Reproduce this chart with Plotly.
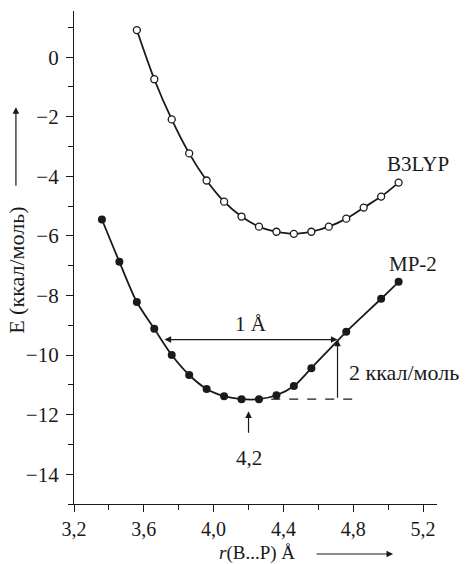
import plotly.graph_objects as go

# Interaction energy vs B...P distance
r_mp2 = [3.36, 3.46, 3.56, 3.66, 3.76, 3.86, 3.96, 4.06, 4.16, 4.26, 4.36, 4.46, 4.56, 4.76, 4.96, 5.06]
e_mp2 = [-5.45, -6.87, -8.22, -9.12, -10.0, -10.67, -11.14, -11.38, -11.48, -11.48, -11.35, -11.04, -10.44, -9.22, -8.11, -7.54]

r_b3lyp = [3.56, 3.66, 3.76, 3.86, 3.96, 4.06, 4.16, 4.26, 4.36, 4.46, 4.56, 4.66, 4.76, 4.86, 4.96, 5.06]
e_b3lyp = [0.91, -0.74, -2.09, -3.23, -4.14, -4.85, -5.35, -5.69, -5.86, -5.93, -5.86, -5.69, -5.42, -5.05, -4.68, -4.21]

x_ticks = [3.2, 3.6, 4.0, 4.4, 4.8, 5.2]
x_ticktext = ["3,2", "3,6", "4,0", "4,4", "4,8", "5,2"]
y_ticks = [0, -2, -4, -6, -8, -10, -12, -14]

# Well width / depth markers for the MP-2 curve
width_left, width_len = 3.71, 1.0
depth_min, depth_len = -11.48, 2.0
r_min = 4.2

FONT = "Liberation Serif, Times New Roman, serif"
INK = "#1a1a1a"

fig = go.Figure()

fig.add_trace(go.Scatter(
    x=r_b3lyp, y=e_b3lyp, mode="lines+markers",
    line=dict(color=INK, width=1.8, shape="spline", smoothing=0.8),
    marker=dict(size=7, color="white", line=dict(color=INK, width=1.3)),
    showlegend=False,
))
fig.add_trace(go.Scatter(
    x=r_mp2, y=e_mp2, mode="lines+markers",
    line=dict(color=INK, width=1.8, shape="spline", smoothing=0.8),
    marker=dict(size=8, color=INK),
    showlegend=False,
))

# dashed baseline at the well bottom
fig.add_shape(type="line", xref="x", yref="y",
              x0=4.33, x1=4.80, y0=depth_min, y1=depth_min,
              line=dict(color=INK, width=1.2, dash="dash"))

ARROW = dict(arrowhead=2, arrowsize=1.1, arrowwidth=1.2, arrowcolor=INK, standoff=0)


def label(text, size=21, **kw):
    d = dict(text=text, showarrow=False, xanchor="center", yanchor="middle",
             font=dict(family=FONT, size=size, color=INK))
    d.update(kw)
    return d


annotations = []

# 1 Å double arrow
annotations.append(dict(x=width_left + width_len, y=depth_min + depth_len,
                        ax=width_left, ay=depth_min + depth_len,
                        xref="x", yref="y", axref="x", ayref="y",
                        text="", showarrow=True, arrowside="end+start",
                        startstandoff=0, **ARROW))
# 2 kcal/mol vertical arrow
annotations.append(dict(x=width_left + width_len, y=depth_min + depth_len,
                        ax=width_left + width_len, ay=depth_min,
                        xref="x", yref="y", axref="x", ayref="y",
                        text="", showarrow=True, **ARROW))
# minimum position arrow
annotations.append(dict(x=r_min, y=-11.89, ax=r_min, ay=-12.66,
                        xref="x", yref="y", axref="x", ayref="y",
                        text="", showarrow=True, **ARROW))

annotations += [
    label("B3LYP", x=5.171, y=-3.57, xref="x", yref="y"),
    label("МР-2", x=5.143, y=-6.94, xref="x", yref="y"),
    label("1 Å", x=4.214, y=-8.96, xref="x", yref="y"),
    label("2 ккал/моль", size=22, x=4.765, y=-10.57, xref="x", yref="y", xanchor="left"),
    label("4,2", x=r_min, y=-13.47, xref="x", yref="y"),
]

# axis titles with direction arrows
annotations.append(label("E (ккал/моль)", size=22, x=-0.157, y=0.473,
                         xref="paper", yref="paper", textangle=-90))
annotations.append(dict(x=-0.160, y=0.805, xref="paper", yref="paper",
                        ax=0, ay=80, text="", showarrow=True, **ARROW))
annotations.append(label("<i>r</i>(B...P) Å", size=19, x=0.504, y=-0.0994,
                         xref="paper", yref="paper"))
annotations.append(dict(x=0.879, y=-0.1014, xref="paper", yref="paper",
                        ax=-78, ay=0, text="", showarrow=True, **ARROW))

fig.update_layout(
    width=465, height=564,
    margin=dict(l=74, r=28, t=11, b=60),
    paper_bgcolor="white", plot_bgcolor="white",
    font=dict(family=FONT, size=20, color=INK),
    annotations=annotations,
)

fig.update_xaxes(
    range=[3.2, 5.28], showgrid=False, zeroline=False,
    showline=True, linecolor=INK, linewidth=1.3,
    tickmode="array", tickvals=x_ticks, ticktext=x_ticktext,
    ticks="outside", ticklen=7, tickwidth=1.2, tickcolor=INK,
    tickfont=dict(family=FONT, size=20, color=INK),
    ticklabelstandoff=0,
    minor=dict(dtick=0.2, tick0=3.2, ticks="outside", ticklen=5, tickwidth=1.1, tickcolor=INK, showgrid=False),
)
fig.update_yaxes(
    range=[-15, 1.55], showgrid=False, zeroline=False,
    showline=True, linecolor=INK, linewidth=1.3,
    tickmode="array", tickvals=y_ticks,
    ticks="outside", ticklen=7, tickwidth=1.2, tickcolor=INK,
    tickfont=dict(family=FONT, size=21, color=INK),
    ticklabelstandoff=3,
    minor=dict(dtick=1, tick0=0, ticks="outside", ticklen=5, tickwidth=1.1, tickcolor=INK, showgrid=False),
)

fig.write_html("out.html")
